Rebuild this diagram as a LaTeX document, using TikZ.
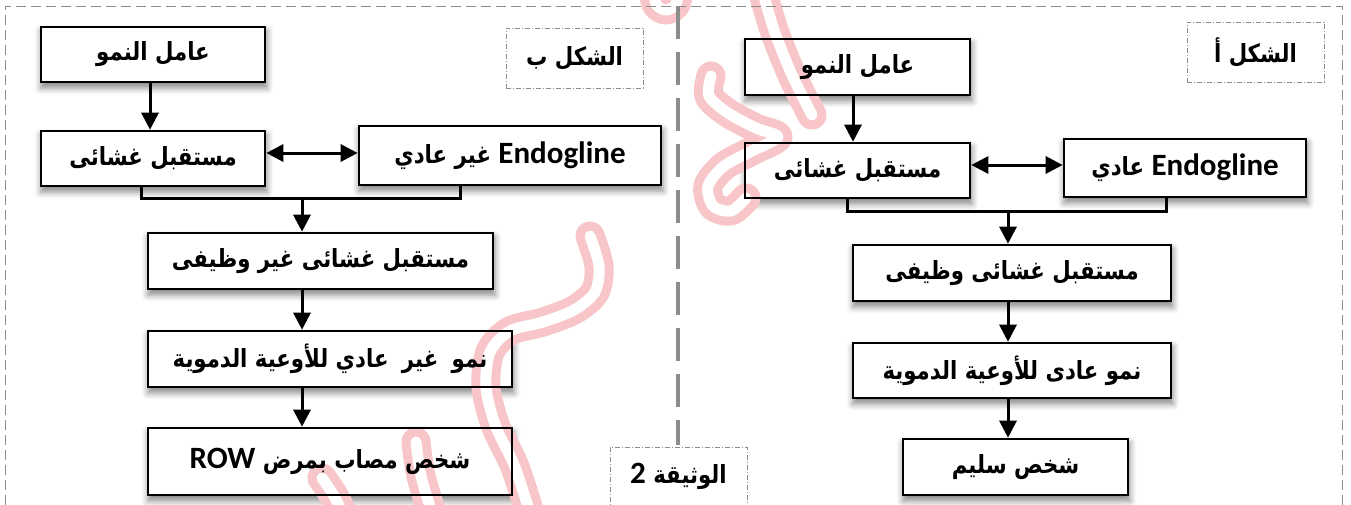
\documentclass[tikz,border=0pt]{standalone}
\usepackage{fontspec}
\usetikzlibrary{arrows.meta,shadows.blur,calc}
\TeXXeTstate=1
\newfontfamily\arabicfont[Script=Arabic,FakeStretch=0.85]{DejaVu Sans}
\newfontfamily\latinfont{Carlito}
\newcommand{\artxt}[1]{{\arabicfont\bfseries\fontsize{25}{28}\selectfont\beginR #1\endR}}
\newcommand{\latxt}[1]{{\latinfont\bfseries\fontsize{31}{32}\selectfont #1}}
\definecolor{wmpink}{RGB}{248,198,200}
\definecolor{framegray}{RGB}{140,140,140}
\pgfdeclarelayer{plates}
\pgfdeclarelayer{tshadow}
\pgfdeclarelayer{mark}
\pgfsetlayers{plates,tshadow,mark,main}
% a framed box with a soft text shadow: name, x, y, width, height, text
\newcommand{\flowbox}[6]{%
  \node[box, minimum width=#4, minimum height=#5] (#1) at (#2,#3) {#6};
  \begin{pgfonlayer}{tshadow}
    \foreach \dx/\dy in {0.5/2.5,1.5/3.5,2.5/2.5,1.5/1.5,1.5/4.5}
      \node[inner sep=0pt, opacity=0.13] at ($(#1.center)+(\dx,\dy)$) {#6};
  \end{pgfonlayer}}
\begin{document}
\begin{tikzpicture}[x=1pt,y=-1pt,
  box/.style={draw=black, line width=2.6pt, inner sep=0pt, align=center},
  tagbox/.style={draw=framegray, line width=0.8pt, inner sep=0pt,
    dash pattern=on 5pt off 2pt on 1pt off 2pt},
  arr/.style={line width=3pt, -{Triangle[length=17pt,width=17pt]}},
  arrboth/.style={line width=3pt, {Triangle[length=17pt,width=17pt]}-{Triangle[length=17pt,width=17pt]}},
  bracket/.style={line width=3pt, line join=miter},
  frame/.style={draw=framegray, line width=1pt, dash pattern=on 10pt off 5pt},
  divider/.style={draw=framegray, line width=3.2pt, dash pattern=on 33pt off 13pt},
  plate/.style={fill=white, blur shadow={shadow xshift=1pt, shadow yshift=-5pt,
    shadow blur radius=6pt, shadow opacity=45}},
  wm/.style={draw=wmpink, line width=9pt, double=white, double distance=11pt,
    line cap=round, line join=round}]
\useasboundingbox (0,0) rectangle (1351,504);

% outer frame and central divider
\draw[frame] (5,520) -- (5,6) -- (1342,6) -- (1342,520);
\draw[divider] (678,6) -- (678,445);

% ---- panel "الشكل ب" (left)
\flowbox{bL1}{153}{54.5}{224}{55}{\artxt{عامل النمو}}
\flowbox{bL2}{153}{158.5}{224}{55}{\artxt{مستقبل غشائى}}
\flowbox{bL3}{510}{155.5}{302}{59}{\artxt{\latxt{Endogline} غير عادي}}
\flowbox{bL4}{320.5}{261}{345}{56}{\artxt{مستقبل غشائى غير وظيفى}}
\flowbox{bL5}{330}{359}{364}{56}{\artxt{نمو\hspace{6pt} غير\hspace{6pt} عادي للأوعية الدموية}}
\flowbox{bL6}{330}{461.5}{364}{67}{\artxt{شخص مصاب بمرض \latxt{ROW}}}
\node[tagbox, minimum width=137, minimum height=60] (tagB) at (574.5,58) {\artxt{الشكل ب}};

\coordinate (xL1) at (150,0);
\coordinate (yL)  at (0,153);
\coordinate (kLa) at (141,198);
\coordinate (kLb) at (460,198);
\coordinate (jL)  at (302,198);

\draw[arr] (bL1.south -| xL1) -- (bL2.north -| xL1);
\draw[arrboth] (bL2.east |- yL) -- (bL3.west |- yL);
\draw[bracket] (bL2.south -| kLa) -- (kLa) -- (kLb) -- (bL3.south -| kLb);
\draw[arr] (jL) -- (bL4.north -| jL);
\draw[arr] (bL4.south -| jL) -- (bL5.north -| jL);
\draw[arr] (bL5.south -| jL) -- (bL6.north -| jL);

% ---- panel "الشكل أ" (right)
\flowbox{bR1}{857.5}{67}{225}{56}{\artxt{عامل النمو}}
\flowbox{bR2}{857.5}{170.5}{225}{55}{\artxt{مستقبل غشائى}}
\flowbox{bR3}{1185}{168}{242}{58}{\artxt{\latxt{Endogline} عادي}}
\flowbox{bR4}{1012}{273}{318}{56}{\artxt{مستقبل غشائى وظيفى}}
\flowbox{bR5}{1012}{370.5}{318}{55}{\artxt{نمو عادى للأوعية الدموية}}
\flowbox{bR6}{1015.5}{467}{225}{56}{\artxt{شخص سليم}}
\node[tagbox, minimum width=137, minimum height=60] (tagA) at (1255.5,52) {\artxt{الشكل أ}};

\coordinate (xR1) at (853,0);
\coordinate (yR)  at (0,165);
\coordinate (kRa) at (847,211);
\coordinate (kRb) at (1166,211);
\coordinate (jR)  at (1008,211);

\draw[arr] (bR1.south -| xR1) -- (bR2.north -| xR1);
\draw[arrboth] (bR2.east |- yR) -- (bR3.west |- yR);
\draw[bracket] (bR2.south -| kRa) -- (kRa) -- (kRb) -- (bR3.south -| kRb);
\draw[arr] (jR) -- (bR4.north -| jR);
\draw[arr] (bR4.south -| jR) -- (bR5.north -| jR);
\draw[arr] (bR5.south -| jR) -- (bR6.north -| jR);

% document label
\node[tagbox, minimum width=137, minimum height=66] (doc) at (678.5,480) {};
\node (doctxt) at (678.5,476) {\artxt{الوثيقة \latxt{2}}};

% white plates with soft shadows under every box
\begin{pgfonlayer}{plates}
  \foreach \n in {bL1,bL2,bL3,bL4,bL5,bL6,bR1,bR2,bR3,bR4,bR5,bR6}
    \path[plate] (\n.south west) rectangle (\n.north east);
\end{pgfonlayer}

% signature strokes
\begin{pgfonlayer}{mark}
  \draw[wm] plot[smooth] coordinates {(652,-18) (656,4) (666,10) (676,4) (680,-18)};
  \draw[wm] plot[smooth] coordinates {(760,-18) (774,30) (792,75) (812,115)};
  \draw[wm] plot[smooth] coordinates {(711,76) (709,96) (728,113) (756,128) (778,137)
    (752,151) (724,166) (708,186) (713,206) (731,211) (746,198)};
  \draw[wm] plot[smooth] coordinates {(590,236) (599,266) (595,292) (574,310) (543,322)
    (510,331) (490,352) (486,388) (496,427) (515,467) (532,520)};
  \draw[wm] plot[smooth] coordinates {(416,442) (421,476) (434,520)};
  \draw[wm] plot[smooth] coordinates {(322,478) (334,496) (346,520)};
\end{pgfonlayer}
\end{tikzpicture}
\end{document}
